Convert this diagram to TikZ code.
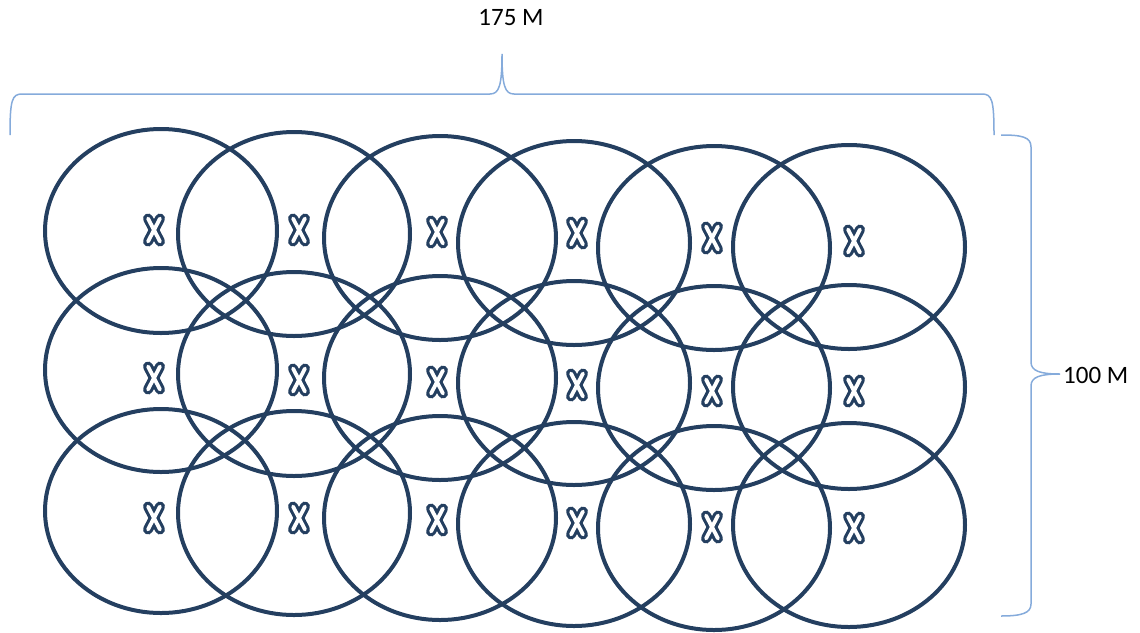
\documentclass[tikz,border=0pt]{standalone}
\usepackage{fontspec}
\setmainfont{Carlito}
\usetikzlibrary{shapes.geometric,calc}
\definecolor{ringc}{HTML}{243F60}
\definecolor{bracec}{HTML}{85ABDB}
\tikzset{
  cell/.style={ellipse, draw=ringc, line width=4pt, minimum width=232pt, minimum height=204pt, inner sep=0pt},
  xmark/.style={minimum width=32pt, minimum height=44pt, inner sep=0pt, path picture={
    \coordinate (pc) at (path picture bounding box.center);
    \draw[ringc, line width=10pt, line cap=round]
      ($(pc)+(-6,-11.5)$) -- ($(pc)+(6,11.5)$) ($(pc)+(6,-11.5)$) -- ($(pc)+(-6,11.5)$);
    \draw[white, line width=3.8pt, line cap=round]
      ($(pc)+(-6,-11.5)$) -- ($(pc)+(6,11.5)$) ($(pc)+(6,-11.5)$) -- ($(pc)+(-6,11.5)$);
  }},
  brace/.style={draw=bracec, line width=1.5pt},
  lab/.style={font=\fontsize{25}{28}\selectfont, text=black, inner sep=0pt}
}
\begin{document}
\begin{tikzpicture}[x=1pt, y=-1pt]
\useasboundingbox (0,0) rectangle (1140,632);
% ellipses
\node[cell] (e11) at (161,231) {};
\node[cell] (e12) at (294,234) {};
\node[cell] (e13) at (440,238) {};
\node[cell] (e14) at (574,243) {};
\node[cell] (e15) at (714,248) {};
\node[cell] (e16) at (849,247) {};
\node[cell] (e21) at (161,370) {};
\node[cell] (e22) at (294,374) {};
\node[cell] (e23) at (440,378) {};
\node[cell] (e24) at (574,383) {};
\node[cell] (e25) at (714,388) {};
\node[cell] (e26) at (849,387) {};
\node[cell] (e31) at (161,511) {};
\node[cell] (e32) at (294,513) {};
\node[cell] (e33) at (440,518) {};
\node[cell] (e34) at (574,524) {};
\node[cell] (e35) at (714,528) {};
\node[cell] (e36) at (849,525) {};
% x marks
\node[xmark] (x11) at (154,230) {};
\node[xmark] (x12) at (299,230) {};
\node[xmark] (x13) at (437,232) {};
\node[xmark] (x14) at (577,233) {};
\node[xmark] (x15) at (712,238) {};
\node[xmark] (x16) at (854,241) {};
\node[xmark] (x21) at (154,378) {};
\node[xmark] (x22) at (299,380) {};
\node[xmark] (x23) at (437,382) {};
\node[xmark] (x24) at (577,385) {};
\node[xmark] (x25) at (712,391) {};
\node[xmark] (x26) at (854,391) {};
\node[xmark] (x31) at (154,518) {};
\node[xmark] (x32) at (299,518) {};
\node[xmark] (x33) at (437,520) {};
\node[xmark] (x34) at (577,523) {};
\node[xmark] (x35) at (712,527) {};
\node[xmark] (x36) at (854,528) {};
% braces
\coordinate (tl) at (10,135);
\coordinate (tt) at (502,54);
\coordinate (tr) at (994,135);
\draw[brace] (tl) .. controls (10,100) and (12,94) .. (22,94) -- (490,94)
  .. controls (499,94) and (502,86) .. (tt)
  .. controls (502,86) and (505,94) .. (514,94) -- (982,94)
  .. controls (992,94) and (994,100) .. (tr);
\coordinate (rt) at (1001,135);
\coordinate (rm) at (1060,374);
\coordinate (rb) at (1001,616);
\draw[brace] (rt) .. controls (1022,135) and (1031,137) .. (1031,147) -- (1031,362)
  .. controls (1031,371) and (1040,374) .. (rm)
  .. controls (1040,374) and (1031,377) .. (1031,386) -- (1031,604)
  .. controls (1031,613) and (1022,616) .. (rb);
% labels
\node[lab] (w) at (511,18) {175 M};
\node[lab, anchor=west] (h) at (1063,375) {100 M};
\end{tikzpicture}
\end{document}
